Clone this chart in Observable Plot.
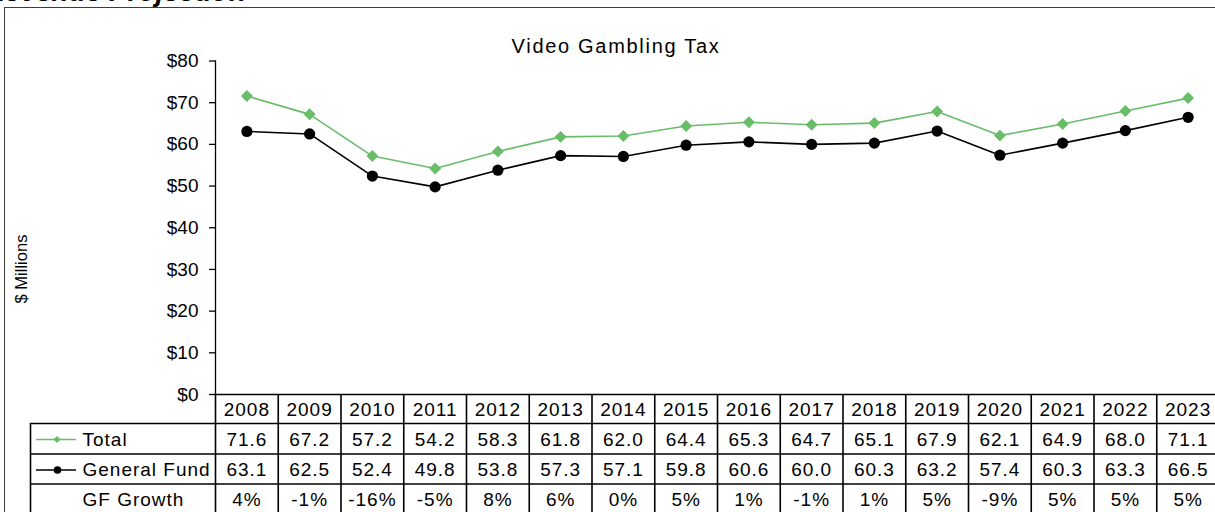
<!DOCTYPE html>
<html>
<head>
<meta charset="utf-8">
<script src="https://cdn.jsdelivr.net/npm/d3@7"></script>
<script src="https://cdn.jsdelivr.net/npm/@observablehq/plot@0.6"></script>
<style>
  body { margin: 0; background: #fff; }
  #wrap { position: relative; width: 1215px; height: 512px; overflow: hidden; background: #fff;
          font-family: "Liberation Sans", Arial, sans-serif; color: #000; }
  #box { position: absolute; left: 4px; top: 7px; width: 1240px; height: 540px;
         border: 1.5px solid #3c3c3c; box-sizing: border-box; }
  #pageTitle { position: absolute; left: -60px; width: 306px; top: -21.7px; text-align: right;
               font: italic bold 28px/28px "Liberation Sans", Arial, sans-serif; white-space: nowrap; }
  #chart { position: absolute; left: 0; top: 0; }
  #chartTitle { position: absolute; left: 616px; top: 35.5px; transform: translateX(-50%);
                font: 20px/20px "Liberation Sans", Arial, sans-serif; letter-spacing: 1.7px; white-space: nowrap; }
  #yLabel { position: absolute; left: 21px; top: 269px; transform: translate(-50%, -50%) rotate(-90deg);
            font: 16.5px/18px "Liberation Sans", Arial, sans-serif; white-space: nowrap; }
</style>
</head>
<body>
<div id="wrap">
  <div id="pageTitle">Revenue Projection</div>
  <div id="box"></div>
  <div id="chart"></div>
  <div id="chartTitle"></div>
  <div id="yLabel"></div>
</div>
<script>
// ---- data ----
const years = ["2008","2009","2010","2011","2012","2013","2014","2015","2016","2017","2018","2019","2020","2021","2022","2023"];
const total = [71.6,67.2,57.2,54.2,58.3,61.8,62.0,64.4,65.3,64.7,65.1,67.9,62.1,64.9,68.0,71.1];
const generalFund = [63.1,62.5,52.4,49.8,53.8,57.3,57.1,59.8,60.6,60.0,60.3,63.2,57.4,60.3,63.3,66.5];
const gfGrowth = ["4%","-1%","-16%","-5%","8%","6%","0%","5%","1%","-1%","1%","5%","-9%","5%","5%","5%"];
const yTicks = [0,10,20,30,40,50,60,70,80];
const seriesLabels = ["Total","General Fund","GF Growth"];
const chartTitle = "Video Gambling Tax";
const yLabel = "$ Millions";

document.getElementById("chartTitle").textContent = chartTitle;
document.getElementById("yLabel").textContent = yLabel;

// ---- layout ----
const W = 1215, H = 512;
const plotLeft = 215, plotRight = 1219, plotTop = 60.5, plotBase = 394;
const k = (plotBase - plotTop) / 80;
const step = (plotRight - plotLeft) / years.length;
const firstCenter = plotLeft + step / 2;
const rowLines = [29, 59.5, 89.5, 119.5];
const rowText = [15, 45, 75.5, 105.5];
const green = "#69bd69";
const tableFont = 19;

const rows = years.map((year, i) => ({year, total: total[i], gf: generalFund[i], growth: gfGrowth[i]}));
const one = [0];

const marks = [
  // y axis
  Plot.frame({anchor: "left", stroke: "#000", strokeWidth: 1.3}),
  Plot.axisY(yTicks, {tickFormat: d => "$" + d, tickSize: 6, tickPadding: 11, fontSize: 19, label: null, stroke: "#000", strokeWidth: 1.3}),
  // series
  Plot.line(rows, {x: "year", y: "total", stroke: green, strokeWidth: 1.6}),
  Plot.dot(rows, {x: "year", y: "total", symbol: "diamond2", r: 5.4, fill: green, stroke: null}),
  Plot.line(rows, {x: "year", y: "gf", stroke: "#000", strokeWidth: 1.6}),
  Plot.dot(rows, {x: "year", y: "gf", symbol: "circle", r: 5.6, fill: "#000", stroke: null}),
  // table grid
  Plot.ruleY(one, {y: () => 0, stroke: "#000", strokeWidth: 1.6}),
  ...rowLines.map(off => Plot.ruleY(one, {y: () => 0, dy: off, insetLeft: -(plotLeft - 30), stroke: "#000", strokeWidth: 1.6})),
  Plot.ruleX(years, {x: d => d, dx: -step / 2, y1: () => 0, y2: () => -rowLines[3] / k, stroke: "#000", strokeWidth: 1.6}),
  Plot.ruleX([years[0]], {x: d => d, dx: -step / 2 - (plotLeft - 30), y1: () => -rowLines[0] / k, y2: () => -rowLines[3] / k, stroke: "#000", strokeWidth: 1.6}),
  // table text
  Plot.text(rows, {x: "year", y: () => 0, dy: rowText[0], text: "year", fontSize: tableFont}),
  Plot.text(rows, {x: "year", y: () => 0, dy: rowText[1], text: d => d.total.toFixed(1), fontSize: tableFont}),
  Plot.text(rows, {x: "year", y: () => 0, dy: rowText[2], text: d => d.gf.toFixed(1), fontSize: tableFont}),
  Plot.text(rows, {x: "year", y: () => 0, dy: rowText[3], text: "growth", fontSize: tableFont}),
  // row labels + legend keys
  ...seriesLabels.map((lab, i) => Plot.text([lab], {x: () => years[0], y: () => 0, dx: 82 - firstCenter, dy: rowText[i + 1], text: d => d, textAnchor: "start", fontSize: tableFont})),
  Plot.ruleY(one, {y: () => 0, dy: rowText[1], insetLeft: 36 - plotLeft, insetRight: W - 76, stroke: green, strokeWidth: 1.5}),
  Plot.dot(one, {x: () => years[0], y: () => 0, dx: 56.5 - firstCenter, dy: rowText[1], symbol: "diamond2", r: 3.2, fill: green, stroke: null}),
  Plot.ruleY(one, {y: () => 0, dy: rowText[2], insetLeft: 36 - plotLeft, insetRight: W - 76, stroke: "#000", strokeWidth: 1.5}),
  Plot.dot(one, {x: () => years[0], y: () => 0, dx: 57 - firstCenter, dy: rowText[2], symbol: "circle", r: 3.8, fill: "#000", stroke: null})
];

const chart = Plot.plot({
  width: W, height: H,
  marginLeft: plotLeft, marginRight: 0, marginTop: plotTop, marginBottom: H - plotBase,
  x: {type: "point", domain: years, range: [plotLeft, plotRight], padding: 0.5, round: false, axis: null},
  y: {domain: [0, 80], range: [plotBase, plotTop]},
  style: {fontFamily: "'Liberation Sans', Arial, sans-serif", color: "#000", background: "transparent", overflow: "visible"},
  marks
});
d3.select(chart).selectAll('g[aria-label="text"]').style("letter-spacing", "1px");
document.getElementById("chart").appendChild(chart);
</script>
</body>
</html>
